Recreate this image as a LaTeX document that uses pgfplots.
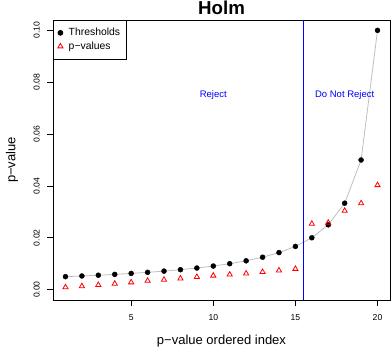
\documentclass[border=0pt]{standalone}
\usepackage{fontspec}
\setmainfont{Liberation Sans}
\usepackage{pgfplots}
\pgfplotsset{compat=1.18}
\definecolor{rgray}{RGB}{190,190,190}
\definecolor{rred}{RGB}{255,0,0}
\definecolor{rblue}{RGB}{0,0,255}
\pgfplotsset{rlegimg/.style={legend image code/.code={\path (0pt,0pt) (8.7pt,0pt); \draw[##1] plot coordinates {(2.7pt,0pt)};}}}
\begin{document}
\begin{tikzpicture}
\begin{axis}[
  at={(0pt,0pt)}, anchor=south west,
  width=337pt, height=280pt, scale only axis,
  xmin=0.24, xmax=20.76, ymin=-0.004, ymax=0.104,
  axis line style={black, line width=0.7pt},
  xtick={5,10,15,20}, xticklabels={5,10,15,20},
  ytick={0,0.02,0.04,0.06,0.08,0.1},
  yticklabels={0.00,0.02,0.04,0.06,0.08,0.10},
  tick align=outside, major tick length=6pt,
  tick style={black, line width=0.7pt},
  tick pos=left,
  xticklabel style={font=\fontsize{8.6}{10}\selectfont, anchor=center, inner sep=0pt},
  yticklabel style={font=\fontsize{8.6}{10}\selectfont, rotate=90, anchor=center, inner sep=0pt},
  xticklabel shift=11.7pt, yticklabel shift=10.3pt,
  xlabel={p−value ordered index},
  ylabel={p−value},
  xlabel style={font=\fontsize{13}{15}\selectfont, at={(axis description cs:0.5,-0.1464)}, anchor=center, inner sep=0pt},
  ylabel style={font=\fontsize{13}{15}\selectfont, at={(axis description cs:-0.1217,0.5)}, anchor=center, inner sep=0pt},
  title={Holm},
  title style={font=\bfseries\fontsize{18.7}{20}\selectfont, at={(axis description cs:0.5,1)}, anchor=base, yshift=-0.6pt, inner sep=0pt},
  legend style={at={(axis description cs:0,1)}, anchor=north west, draw=black, line width=0.7pt, fill=white,
    font=\fontsize{10.4}{12.5}\selectfont, inner xsep=4pt, inner ysep=6pt, row sep=0.5pt,
    nodes={inner sep=2pt, text depth=0.15em}},
  legend cell align=left,
]
\addplot[draw=rgray, line width=0.8pt, forget plot] coordinates {
(1,0.005) (2,0.005263) (3,0.005556) (4,0.005882) (5,0.00625) (6,0.006667) (7,0.007143) (8,0.007692) (9,0.008333) (10,0.009091)
(11,0.01) (12,0.011111) (13,0.0125) (14,0.014286) (15,0.016667) (16,0.02) (17,0.025) (18,0.033333) (19,0.05) (20,0.1)};
\addplot[rblue, line width=1.2pt, forget plot] coordinates {(15.5,-0.004) (15.5,0.104)};
\addplot[only marks, mark=*, mark size=2.5pt, black, rlegimg] coordinates {
(1,0.005) (2,0.005263) (3,0.005556) (4,0.005882) (5,0.00625) (6,0.006667) (7,0.007143) (8,0.007692) (9,0.008333) (10,0.009091)
(11,0.01) (12,0.011111) (13,0.0125) (14,0.014286) (15,0.016667) (16,0.02) (17,0.025) (18,0.033333) (19,0.05) (20,0.1)};
\addlegendentry{Thresholds}
\addplot[only marks, mark=triangle, mark size=3pt, rred, mark options={line width=0.8pt}, rlegimg] coordinates {
(1,0.0009) (2,0.0013) (3,0.0018) (4,0.0023) (5,0.0028) (6,0.0034) (7,0.0038) (8,0.0043) (9,0.0049) (10,0.0054)
(11,0.0058) (12,0.0062) (13,0.0068) (14,0.0074) (15,0.0080) (16,0.0254) (17,0.0258) (18,0.0304) (19,0.0333) (20,0.0403)};
\addlegendentry{p−values}
\node[text=rblue, font=\fontsize{9.5}{11}\selectfont] at (axis cs:10,0.075) {Reject};
\node[text=rblue, font=\fontsize{9.5}{11}\selectfont] at (axis cs:18,0.075) {Do Not Reject};
\end{axis}
\pgfresetboundingbox
\path[use as bounding box] (-53pt,-47pt) rectangle (338pt,300pt);
\end{tikzpicture}
\end{document}
